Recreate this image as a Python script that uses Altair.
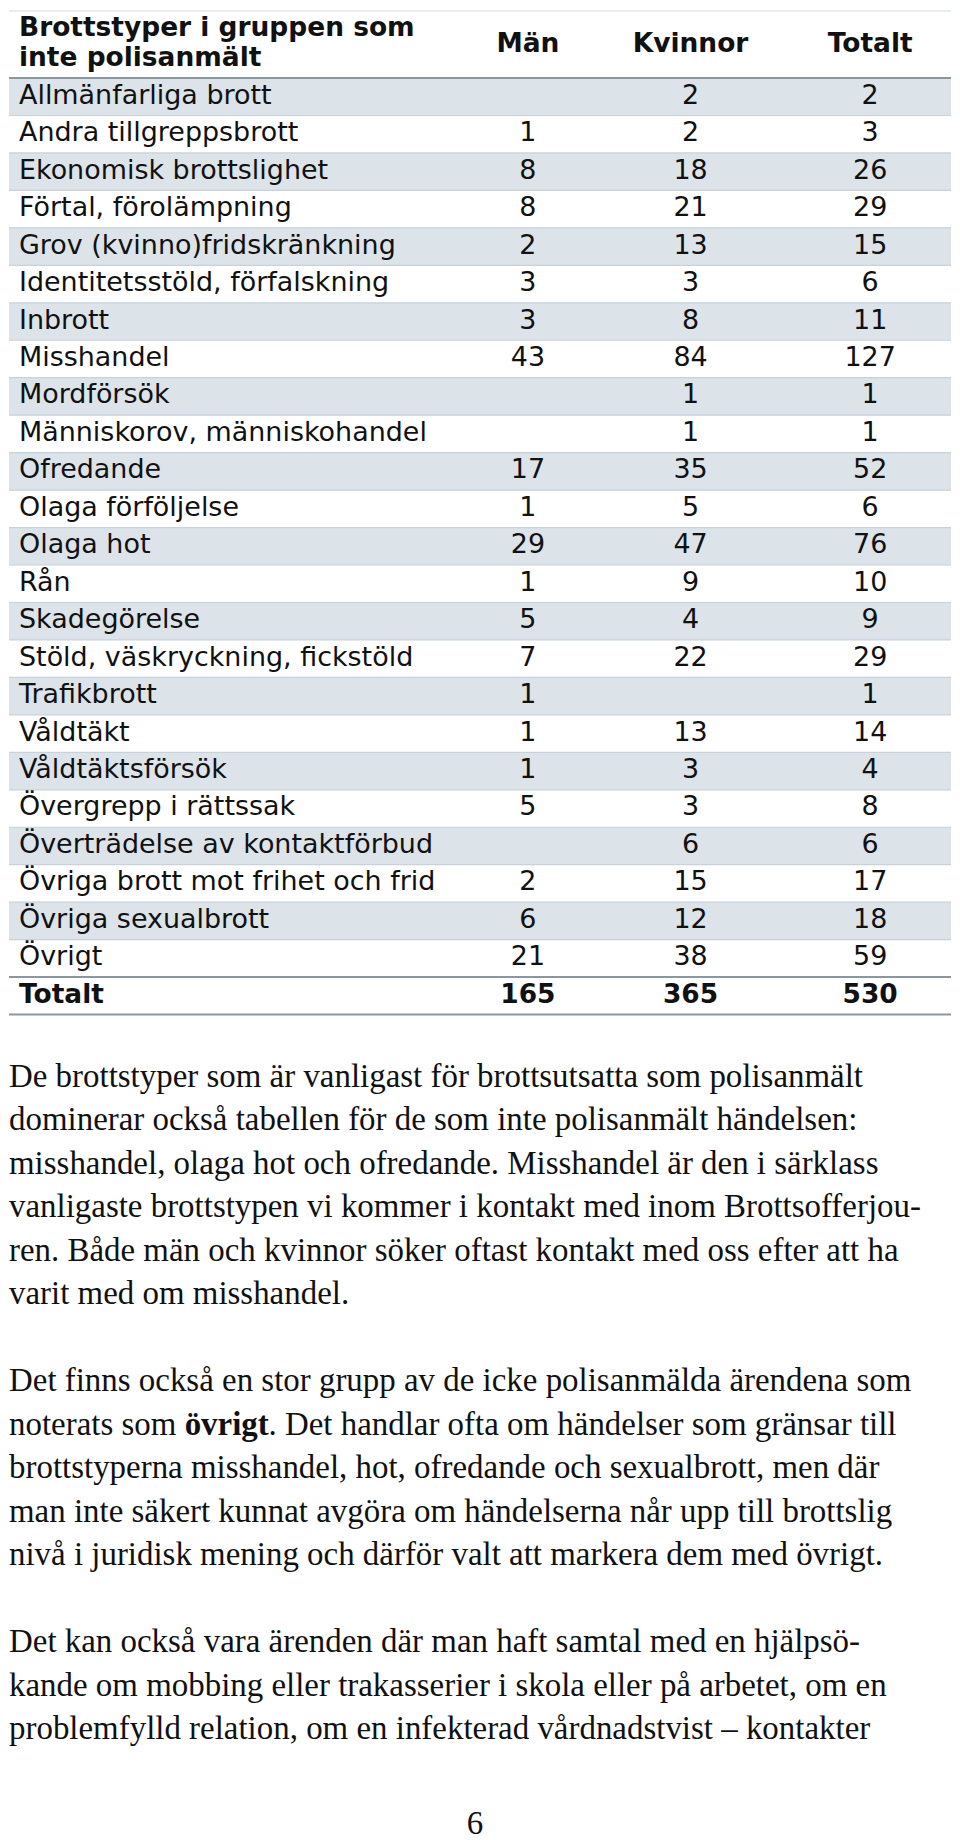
import altair as alt
import pandas as pd

# ---------------- data ----------------
header_label = ["Brottstyper i gruppen som", "inte polisanmält"]
col_names = ["Män", "Kvinnor", "Totalt"]

categories = [
    "Allmänfarliga brott", "Andra tillgreppsbrott", "Ekonomisk brottslighet",
    "Förtal, förolämpning", "Grov (kvinno)fridskränkning", "Identitetsstöld, förfalskning",
    "Inbrott", "Misshandel", "Mordförsök", "Människorov, människohandel", "Ofredande",
    "Olaga förföljelse", "Olaga hot", "Rån", "Skadegörelse", "Stöld, väskryckning, fickstöld",
    "Trafikbrott", "Våldtäkt", "Våldtäktsförsök", "Övergrepp i rättssak",
    "Överträdelse av kontaktförbud", "Övriga brott mot frihet och frid",
    "Övriga sexualbrott", "Övrigt",
]
man = [None, 1, 8, 8, 2, 3, 3, 43, None, None, 17, 1, 29, 1, 5, 7, 1, 1, 1, 5, None, 2, 6, 21]
kvinnor = [2, 2, 18, 21, 13, 3, 8, 84, 1, 1, 35, 5, 47, 9, 4, 22, None, 13, 3, 3, 6, 15, 12, 38]
totalt = [2, 3, 26, 29, 15, 6, 11, 127, 1, 1, 52, 6, 76, 10, 9, 29, 1, 14, 4, 8, 6, 17, 18, 59]
total_label = "Totalt"
total_values = [165, 365, 530]

paragraphs = [
    [
        "De brottstyper som är vanligast för brottsutsatta som polisanmält",
        "dominerar också tabellen för de som inte polisanmält händelsen:",
        "misshandel, olaga hot och ofredande. Misshandel är den i särklass",
        "vanligaste brottstypen vi kommer i kontakt med inom Brottsofferjou-",
        "ren. Både män och kvinnor söker oftast kontakt med oss efter att ha",
        "varit med om misshandel.",
    ],
    [
        "Det finns också en stor grupp av de icke polisanmälda ärendena som",
        ["noterats som ", "övrigt", ". Det handlar ofta om händelser som gränsar till"],
        "brottstyperna misshandel, hot, ofredande och sexualbrott, men där",
        "man inte säkert kunnat avgöra om händelserna når upp till brottslig",
        "nivå i juridisk mening och därför valt att markera dem med övrigt.",
    ],
    [
        "Det kan också vara ärenden där man haft samtal med en hjälpsö-",
        "kande om mobbing eller trakasserier i skola eller på arbetet, om en",
        "problemfylld relation, om en infekterad vårdnadstvist – kontakter",
    ],
]
page_number = "6"

# ---------------- layout ----------------
W, H = 944, 1824
X0, X1 = 8, 8 + W
Y0, Y1 = 8, 8 + H
LABEL_X = 18
COL_X = [528, 691, 871]
ROW0 = 94.0
ROW_H = 37.54
TEXT_Y0 = 1077.0
LINE_H = 43.6
SEG_X = [8, 184, 268]

SANS = "DejaVu Sans"
SERIF = "Liberation Serif"
FS = 27
FS_BOLD = 26.5
SERIF_FS = 33

xs = alt.Scale(domain=[X0, X1])
ys = alt.Scale(domain=[Y0, Y1], reverse=True)

def X(f="x"):
    return alt.X(f"{f}:Q", scale=xs, axis=None)

def Y(f="y"):
    return alt.Y(f"{f}:Q", scale=ys, axis=None)

n_rows = len(categories)
rows = pd.DataFrame({"i": list(range(n_rows + 1))})
rows["top"] = ROW0 + 1 - ROW_H / 2 + rows["i"] * ROW_H
rows["bot"] = rows["top"] + ROW_H
rows["x"] = X0
rows["x2"] = X1

stripes = alt.Chart(rows[(rows["i"] % 2 == 0) & (rows["i"] < n_rows)]).mark_rect(
    color="#dce3e9"
).encode(x=X(), x2="x2", y=Y("top"), y2="bot")

seps = rows[(rows["i"] >= 1) & (rows["i"] < n_rows)].copy()
sep_rules = alt.Chart(seps).mark_rule(color="#c8d2da", strokeWidth=1.2).encode(
    x=X(), x2="x2", y=Y("top")
)

heavy = pd.DataFrame({
    "y": [ROW0 + 1 - ROW_H / 2, ROW0 + 1 - ROW_H / 2 + n_rows * ROW_H,
          ROW0 + 1 - ROW_H / 2 + (n_rows + 1) * ROW_H],
    "x": X0, "x2": X1,
})
heavy_rules = alt.Chart(heavy).mark_rule(color="#8b979e", strokeWidth=2).encode(
    x=X(), x2="x2", y=Y()
)
top_rule = alt.Chart(pd.DataFrame({"y": [9], "x": X0, "x2": X1})).mark_rule(
    color="#e2e9ee", strokeWidth=1.5
).encode(x=X(), x2="x2", y=Y())

# header texts
hdr = pd.DataFrame(
    [{"x": LABEL_X, "y": 26 + k * 30, "t": s, "a": "left"} for k, s in enumerate(header_label)]
    + [{"x": cx, "y": 42, "t": s, "a": "center"} for cx, s in zip(COL_X, col_names)]
)
hdr_left = alt.Chart(hdr[hdr["a"] == "left"]).mark_text(
    align="left", baseline="middle", font=SANS, fontSize=FS_BOLD, fontWeight="bold", color="#111"
).encode(x=X(), y=Y(), text="t:N")
hdr_cols = alt.Chart(hdr[hdr["a"] == "center"]).mark_text(
    align="center", baseline="middle", font=SANS, fontSize=FS_BOLD, fontWeight="bold", color="#111"
).encode(x=X(), y=Y(), text="t:N")

# row labels and values
lab = pd.DataFrame({"t": categories, "i": range(n_rows)})
lab["y"] = ROW0 + lab["i"] * ROW_H
lab["x"] = LABEL_X
labels = alt.Chart(lab).mark_text(
    align="left", baseline="middle", font=SANS, fontSize=FS, color="#111"
).encode(x=X(), y=Y(), text="t:N")

vals = []
for i in range(n_rows):
    for cx, series in zip(COL_X, [man, kvinnor, totalt]):
        v = series[i]
        if v is not None:
            vals.append({"x": cx, "y": ROW0 + i * ROW_H, "t": str(v)})
values = alt.Chart(pd.DataFrame(vals)).mark_text(
    align="center", baseline="middle", font=SANS, fontSize=FS, color="#111"
).encode(x=X(), y=Y(), text="t:N")

tot_y = ROW0 + n_rows * ROW_H
tot = pd.DataFrame(
    [{"x": LABEL_X, "y": tot_y, "t": total_label, "a": "left"}]
    + [{"x": cx, "y": tot_y, "t": str(v), "a": "center"} for cx, v in zip(COL_X, total_values)]
)
tot_left = alt.Chart(tot[tot["a"] == "left"]).mark_text(
    align="left", baseline="middle", font=SANS, fontSize=FS_BOLD, fontWeight="bold", color="#111"
).encode(x=X(), y=Y(), text="t:N")
tot_vals = alt.Chart(tot[tot["a"] == "center"]).mark_text(
    align="center", baseline="middle", font=SANS, fontSize=FS_BOLD, fontWeight="bold", color="#111"
).encode(x=X(), y=Y(), text="t:N")

# paragraphs
plain, bold = [], []
n = 0
for p in paragraphs:
    for line in p:
        y = TEXT_Y0 + n * LINE_H
        if isinstance(line, list):
            for k, seg in enumerate(line):
                (bold if k == 1 else plain).append({"x": SEG_X[k], "y": y, "t": seg})
        else:
            plain.append({"x": X0, "y": y, "t": line})
        n += 1
    n += 1
body = alt.Chart(pd.DataFrame(plain)).mark_text(
    align="left", baseline="middle", font=SERIF, fontSize=SERIF_FS, color="#111"
).encode(x=X(), y=Y(), text="t:N")
body_bold = alt.Chart(pd.DataFrame(bold)).mark_text(
    align="left", baseline="middle", font=SERIF, fontSize=SERIF_FS, fontWeight="bold", color="#111"
).encode(x=X(), y=Y(), text="t:N")

pg = alt.Chart(pd.DataFrame({"x": [475], "y": [1826], "t": [page_number]})).mark_text(
    align="center", baseline="middle", font=SERIF, fontSize=SERIF_FS, color="#111"
).encode(x=X(), y=Y(), text="t:N")

chart = alt.layer(
    stripes, sep_rules, heavy_rules, top_rule,
    hdr_left, hdr_cols, labels, values, tot_left, tot_vals,
    body, body_bold, pg,
).properties(width=W, height=H, padding=0).configure_view(stroke=None)

chart.save("out.html", embed_options={"renderer": "svg", "actions": False})
